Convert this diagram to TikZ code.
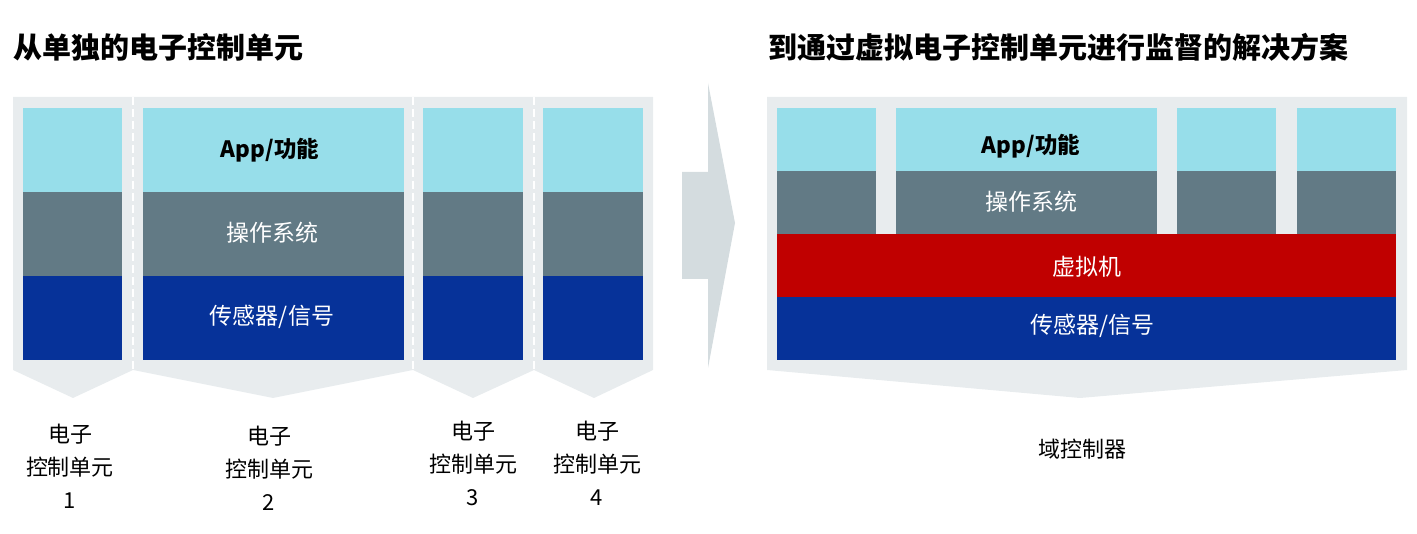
\documentclass[tikz,border=0pt]{standalone}
\usepackage{fontspec}
\setmainfont{Noto Sans CJK SC}
\usepackage{tikz}

\definecolor{appblue}{HTML}{97DEEA}
\definecolor{osgrey}{HTML}{627A85}
\definecolor{sensorblue}{HTML}{063299}
\definecolor{vmred}{HTML}{C00000}
\definecolor{panelgrey}{HTML}{E8ECEE}
\definecolor{arrowgrey}{HTML}{D4DCDF}

\begin{document}
\begin{tikzpicture}[x=1pt, y=-1pt,
    title/.style={anchor=west, inner sep=0pt, font=\fontsize{29}{31}\selectfont\bfseries},
    layertext/.style={font=\fontsize{23}{26}\selectfont, text=white},
    apptext/.style={font=\fontsize{22.5}{26}\selectfont\bfseries, text=black},
    eculabel/.style={align=center, font=\fontsize{22}{33}\selectfont},
    seam/.style={white, line width=2.5pt, dash pattern=on 8pt off 4pt}]
    \useasboundingbox (0,0) rectangle (1417,534);
    % titles
    \node[title] (lefttitle) at (13,47) {从单独的电子控制单元};
    \node[title] (righttitle) at (768,47) {到通过虚拟电子控制单元进行监督的解决方案};
    % grey panels, left
    \fill[panelgrey] (13,97)--(133,97)--(133,370)--(73,398)--(13,370)--cycle;
    \fill[panelgrey] (133,97)--(413,97)--(413,370)--(273,398)--(133,370)--cycle;
    \fill[panelgrey] (413,97)--(534,97)--(534,370)--(473,398)--(413,370)--cycle;
    \fill[panelgrey] (534,97)--(653,97)--(653,370)--(594,398)--(534,370)--cycle;
    \draw[seam] (133,97)--(133,372);
    \draw[seam] (413,97)--(413,372);
    \draw[seam] (534,97)--(534,372);
    % layers, left
    \fill[appblue] (23,108) rectangle (122,192);
    \fill[appblue] (143,108) rectangle (404,192);
    \fill[appblue] (423,108) rectangle (523,192);
    \fill[appblue] (543,108) rectangle (643,192);
    \fill[osgrey] (23,192) rectangle (122,276);
    \fill[osgrey] (143,192) rectangle (404,276);
    \fill[osgrey] (423,192) rectangle (523,276);
    \fill[osgrey] (543,192) rectangle (643,276);
    \fill[sensorblue] (23,276) rectangle (122,360);
    \fill[sensorblue] (143,276) rectangle (404,360);
    \fill[sensorblue] (423,276) rectangle (523,360);
    \fill[sensorblue] (543,276) rectangle (643,360);
    \node[apptext] (app) at (270,150) {App/功能};
    \node[layertext] (os) at (272,233) {操作系统};
    \node[layertext] (sensor) at (272,317) {传感器/信号};
    % ecu labels
    \node[eculabel] (ecua) at (70,466) {电子\\控制单元\\1};
    \node[eculabel] (ecub) at (269,468) {电子\\控制单元\\2};
    \node[eculabel] (ecuc) at (473,463) {电子\\控制单元\\3};
    \node[eculabel] (ecud) at (597,463) {电子\\控制单元\\4};
    % arrow
    \fill[arrowgrey] (682,172)--(708,172)--(708,83)--(735,223)--(708,368)--(708,279)--(682,279)--cycle;
    % grey panel, right
    \fill[panelgrey] (767,97)--(1407,97)--(1407,370)--(1080,398)--(767,370)--cycle;
    % layers, right
    \fill[appblue] (777,108) rectangle (876,171);
    \fill[appblue] (896,108) rectangle (1157,171);
    \fill[appblue] (1177,108) rectangle (1276,171);
    \fill[appblue] (1297,108) rectangle (1396,171);
    \fill[osgrey] (777,171) rectangle (876,234);
    \fill[osgrey] (896,171) rectangle (1157,234);
    \fill[osgrey] (1177,171) rectangle (1276,234);
    \fill[osgrey] (1297,171) rectangle (1396,234);
    \fill[vmred] (777,234) rectangle (1396,297);
    \fill[sensorblue] (777,297) rectangle (1396,360);
    \node[apptext] (vapp) at (1031,146) {App/功能};
    \node[layertext] (vos) at (1031,202) {操作系统};
    \node[layertext] (vm) at (1087,267) {虚拟机};
    \node[layertext] (vsensor) at (1092,326) {传感器/信号};
    \node[eculabel] (domain) at (1082,449) {域控制器};
\end{tikzpicture}
\end{document}
